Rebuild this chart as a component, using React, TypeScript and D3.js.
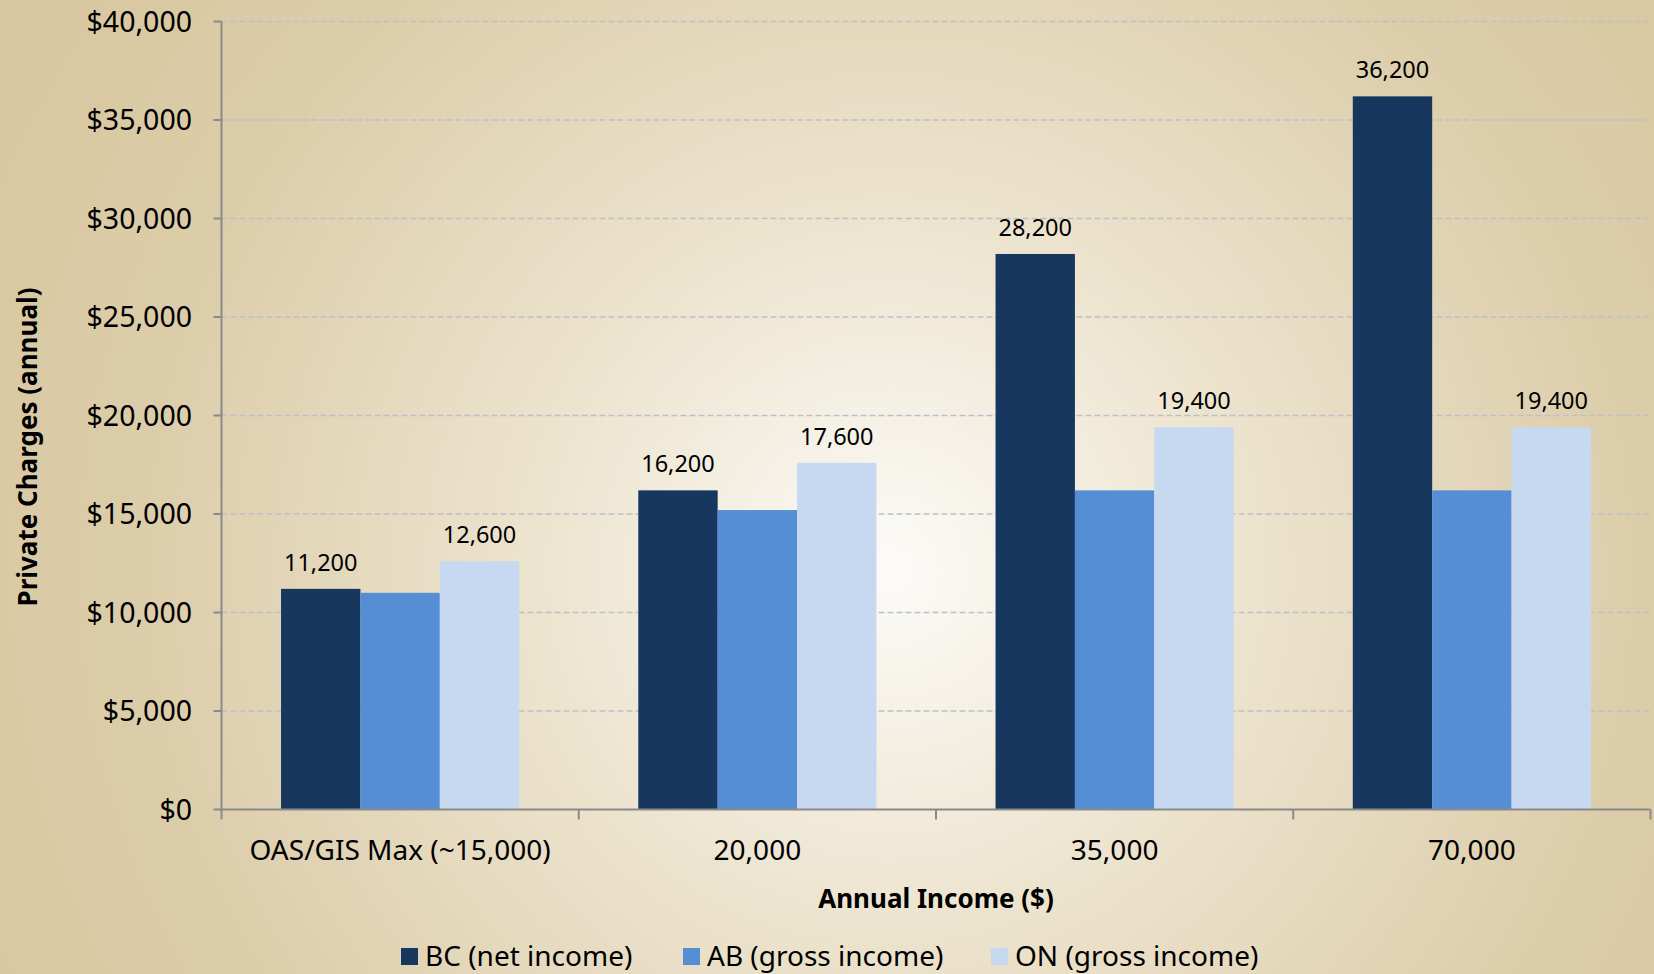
import React from "react";
import * as d3 from "d3";

const categories = ["OAS/GIS Max (~15,000)", "20,000", "35,000", "70,000"];
const seriesNames = ["BC (net income)", "AB (gross income)", "ON (gross income)"];
const bcValues = [11200, 16200, 28200, 36200];
const abValues = [11000, 15200, 16200, 16200];
const onValues = [12600, 17600, 19400, 19400];
const showLabel = [true, false, true];
const yTicks = [0, 5000, 10000, 15000, 20000, 25000, 30000, 35000, 40000];
const colors = ["#17375e", "#558ed5", "#c6d9f1"];

const W = 1654;
const H = 974;
const left = 221.5;
const right = 1650.5;
const top = 21.5;
const bottom = 809.5;
const FONT = "'Noto Sans', 'Open Sans', sans-serif";

export default function App() {
  const series = [bcValues, abValues, onValues];
  const x = d3.scaleBand<string>().domain(categories).range([left, right]).paddingInner(0).paddingOuter(0);
  const y = d3.scaleLinear().domain([0, 40000]).range([bottom, top]);
  const bw = x.bandwidth();
  const barW = bw / 4.5;
  const offset = barW * 0.75;
  const fmtTick = (v: number) => "$" + d3.format(",")(v);
  const fmtVal = d3.format(",");
  const boundaries = [...categories.map((c) => x(c) as number), right];
  const legendX = [401, 683, 991];

  return (
    <svg width={W} height={H} style={{ position: "absolute", left: 0, top: 0, display: "block" }}>
      <defs>
        <radialGradient id="bg" gradientUnits="userSpaceOnUse" cx={890} cy={570} r={1000}>
          <stop offset="0" stopColor="#fcfbf8" />
          <stop offset="0.35" stopColor="#ede4cf" />
          <stop offset="0.75" stopColor="#dccdaa" />
          <stop offset="1" stopColor="#d8c79f" />
        </radialGradient>
      </defs>
      <rect x={0} y={0} width={W} height={H} fill="url(#bg)" />

      {yTicks.filter((t) => t > 0).map((t) => (
        <line key={"g" + t} x1={left} x2={right} y1={y(t)} y2={y(t)} stroke="#bcc0c8" strokeWidth={1.5} strokeDasharray="6,3" />
      ))}

      {categories.map((c, ci) =>
        series.map((s, si) => {
          const bx = (x(c) as number) + offset + si * barW;
          return (
            <rect key={c + si} x={bx} y={y(s[ci])} width={barW} height={bottom - y(s[ci])} fill={colors[si]} />
          );
        })
      )}

      {categories.map((c, ci) =>
        series.map((s, si) =>
          showLabel[si] ? (
            <text key={"l" + c + si} x={(x(c) as number) + offset + si * barW + barW / 2} y={y(s[ci]) - 18}
              textAnchor="middle" fontFamily={FONT} fontSize={23.5} fill="#000">
              {fmtVal(s[ci])}
            </text>
          ) : null
        )
      )}

      <line x1={left} x2={left} y1={top} y2={bottom} stroke="#8a8a8a" strokeWidth={2} />
      {yTicks.map((t) => (
        <g key={"t" + t}>
          <line x1={left - 8} x2={left} y1={y(t)} y2={y(t)} stroke="#8a8a8a" strokeWidth={2} />
          <text x={192} y={y(t)} dy="0.36em" textAnchor="end" fontFamily={FONT} fontSize={28.5} fill="#000">
            {fmtTick(t)}
          </text>
        </g>
      ))}

      <line x1={left} x2={right} y1={bottom} y2={bottom} stroke="#8a8a8a" strokeWidth={2} />
      {boundaries.map((b, i) => (
        <line key={"xb" + i} x1={b} x2={b} y1={bottom} y2={bottom + 10} stroke="#8a8a8a" strokeWidth={2} />
      ))}
      {categories.map((c) => (
        <text key={"xl" + c} x={(x(c) as number) + bw / 2} y={860} textAnchor="middle" fontFamily={FONT} fontSize={28} fill="#000">
          {c}
        </text>
      ))}

      <text x={(left + right) / 2} y={908} textAnchor="middle" fontFamily={FONT} fontWeight="bold" fontSize={26} fill="#000">
        Annual Income ($)
      </text>
      <text transform="translate(37,447) rotate(-90)" textAnchor="middle" fontFamily={FONT} fontWeight="bold" fontSize={26} fill="#000">
        Private Charges (annual)
      </text>

      {seriesNames.map((n, i) => (
        <g key={"lg" + i}>
          <rect x={legendX[i]} y={948} width={17} height={17} fill={colors[i]} />
          <text x={legendX[i] + 24} y={966} fontFamily={FONT} fontSize={28} fill="#000">
            {n}
          </text>
        </g>
      ))}
    </svg>
  );
}
